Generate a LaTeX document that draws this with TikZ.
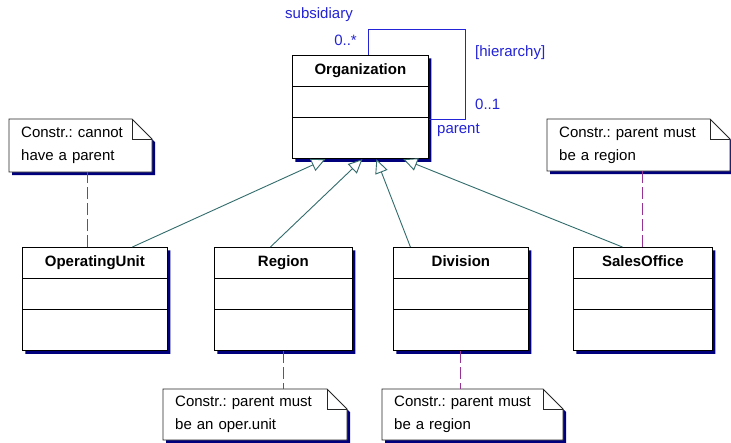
\documentclass[tikz,border=0pt]{standalone}
\usepackage{fontspec}
\setmainfont{Liberation Sans}
\frenchspacing
\usetikzlibrary{arrows.meta,positioning,shapes.multipart,shadows}
\definecolor{shadownavy}{RGB}{0,0,125}
\definecolor{genteal}{RGB}{50,108,108}
\definecolor{linkpurple}{RGB}{150,50,150}
\definecolor{assocblue}{RGB}{35,35,215}
\newcommand{\classfont}{\fontsize{15}{18}\selectfont\bfseries}
\newcommand{\notefont}{\fontsize{15}{23}\selectfont}
\newcommand{\classparts}[1]{\rule[-11pt]{0pt}{30pt}#1\nodepart{two}\rule{0pt}{30pt}\nodepart{three}\rule{0pt}{41pt}}
% note with folded corner: name, corner, width, height, text
\newcommand{\umlnote}[5]{%
  \filldraw[notepaper] (#2) -- ++({#3-20},0) -- ++(20,20) -- ++(0,{#4-20}) -- ++({-#3},0) -- cycle;
  \draw[noteedge] (#2) ++({#3-20},0) |- ++(20,20);
  \node[notetext, text width={#3pt-24pt}, minimum width=#3pt, minimum height=#4pt, anchor=north west] (#1) at (#2) {#5};
}

\begin{document}
\begin{tikzpicture}[x=1pt,y=-1pt]
\tikzset{
  umlshadow/.style={drop shadow={shadow xshift=3pt, shadow yshift=-3pt, fill=shadownavy, opacity=1}},
  classbox/.style={rectangle split, rectangle split parts=3, draw=black, fill=white, line width=0.8pt,
    inner xsep=0pt, inner ysep=0pt, text width=#1, align=center, font=\classfont, umlshadow},
  notepaper/.style={fill=white, draw=black!85, line width=0.8pt, umlshadow},
  noteedge/.style={draw=black!85, line width=0.8pt},
  notetext/.style={inner xsep=12pt, inner ysep=0pt, align=left, font=\notefont},
  genline/.style={draw=genteal, line width=0.9pt, -{Triangle[length=14pt, width=13pt, fill=white]}},
  notelink/.style={draw=linkpurple, line width=0.9pt, dash pattern=on 12pt off 4pt},
  assocline/.style={draw=assocblue, line width=0.9pt},
  assoclabel/.style={text=assocblue, inner sep=0pt, font=\notefont}
}
\fill[white] (0,0) rectangle (731,442);
\useasboundingbox (0,0) rectangle (731,442);

% classes
\node[classbox=136pt, anchor=north west] (org) at (292,55) {\classparts{Organization}};
\node[classbox=145pt, anchor=north west] (opunit) at (22,247) {\classparts{OperatingUnit}};
\node[classbox=138pt, anchor=north west] (region) at (214,247) {\classparts{Region}};
\node[classbox=135pt, anchor=north west] (division) at (393,247) {\classparts{Division}};
\node[classbox=139pt, anchor=north west] (sales) at (573,247) {\classparts{SalesOffice}};

% self association
\coordinate (loopcorner) at (465,29);
\draw[assocline] ([xshift=8pt]org.north) |- (loopcorner) |- ([yshift=-12pt]org.east);
\node[assoclabel] (subsid) at (319,15) {subsidiary};
\node[assoclabel, anchor=east] (multmany) at (357,40) {0..*};
\node[assoclabel, anchor=west] (hier) at (475,53) {[hierarchy]};
\node[assoclabel, anchor=west] (multone) at (475,104) {0..1};
\node[assoclabel, anchor=west] (parentlbl) at (437,130) {parent};

% generalizations
\draw[genline] ([xshift=37.5pt]opunit.north) -- ([xshift=-35pt]org.south);
\draw[genline] ([xshift=-13pt]region.north) -- ([xshift=2pt]org.south);
\draw[genline] ([xshift=-50.5pt]division.north) -- ([xshift=16pt]org.south);
\draw[genline] ([xshift=-20.5pt]sales.north) -- ([xshift=43pt]org.south);

% constraint notes
\umlnote{noteop}{9,119}{143}{53}{Constr.: cannot\\have a parent}
\umlnote{notesales}{547,119}{183}{52}{Constr.: parent must\\be a region}
\umlnote{noteregion}{163,389}{184}{51}{Constr.: parent must\\be an oper.unit}
\umlnote{notediv}{382,389}{181}{51}{Constr.: parent must\\be a region}

\draw[notelink] ([xshift=-7.5pt]opunit.north) -- ([xshift=-7.5pt]opunit.north |- noteop.south);
\draw[notelink] (sales.north) -- (sales.north |- notesales.south);
\draw[notelink] (region.south) -- (region.south |- noteregion.north);
\draw[notelink] (division.south) -- (division.south |- notediv.north);
\end{tikzpicture}
\end{document}
